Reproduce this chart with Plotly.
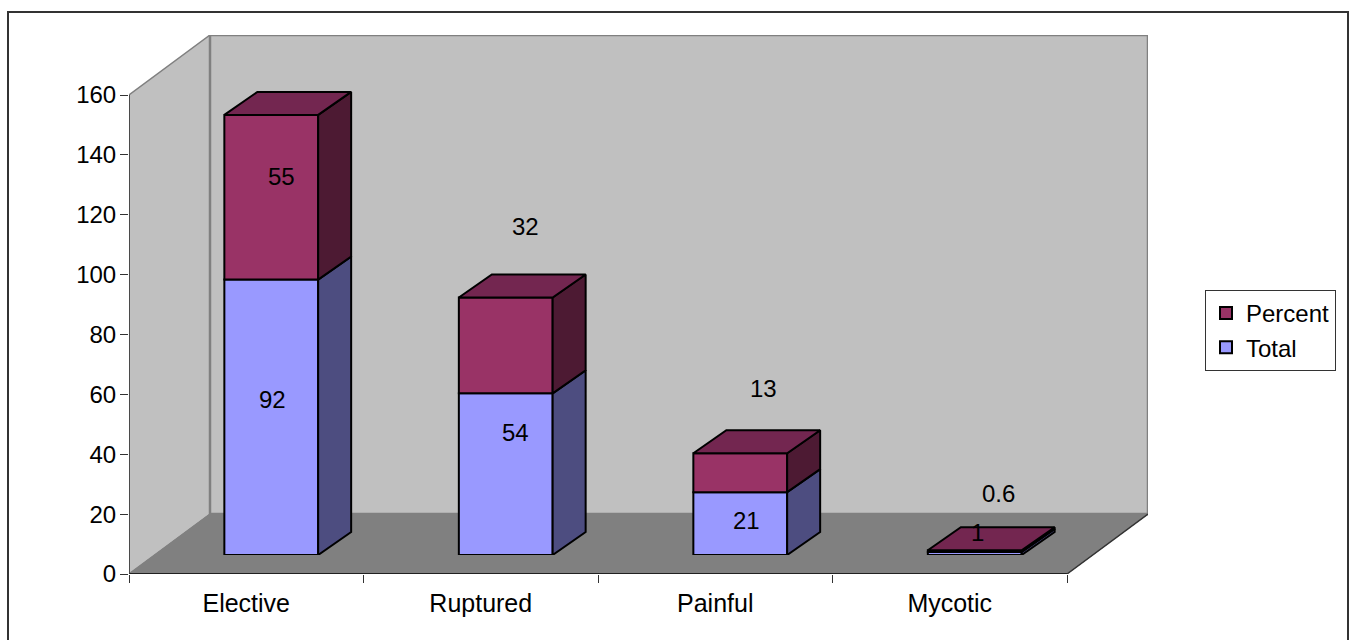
import plotly.graph_objects as go

categories = ["Elective", "Ruptured", "Painful", "Mycotic"]
total = [92, 54, 21, 1]
percent = [55, 32, 13, 0.6]
y_ticks = [0, 20, 40, 60, 80, 100, 120, 140, 160]

W, H = 1354, 640
FONT = "Liberation Sans"
FS = 24
# geometry of the pseudo-3D frame, in pixels
X0, X1, Y0, Y1 = 129, 1067, 574, 95
WALL_DX, WALL_DY = 81, 60
BAR_SHIFT_X, BAR_SHIFT_Y = 25, 19
BAR_DX, BAR_DY = 33, 23
px_per_cat = (X1 - X0) / 4
px_per_val = (Y0 - Y1) / 160
wdx, wdy = WALL_DX / px_per_cat, WALL_DY / px_per_val
bdx, bdy = BAR_DX / px_per_cat, BAR_DY / px_per_val
BAR_W = 0.4
EDGE = 2
pos = [i + 0.5 for i in range(len(categories))]

fig = go.Figure()


def poly(xs, ys, fill, line="black", lw=EDGE, axes=("x", "y")):
    fig.add_trace(go.Scatter(
        x=xs + xs[:1], y=ys + ys[:1], mode="lines", fill="toself", fillcolor=fill,
        line=dict(color=line, width=lw), hoverinfo="skip", showlegend=False,
        cliponaxis=False, xaxis=axes[0], yaxis=axes[1]))


ymax = y_ticks[-1]
n = len(categories)
# walls and floor
poly([0, wdx, wdx, 0], [0, wdy, ymax + wdy, ymax], "#C0C0C0", "#808080", 1.5)
poly([wdx, n + wdx, n + wdx, wdx], [wdy, wdy, ymax + wdy, ymax + wdy], "#C0C0C0", "#808080", 2.5)
poly([0, n, n + wdx, wdx], [0, 0, wdy, wdy], "#808080", "#808080", 1)
for xs, ys, c in [([0, n], [0, 0], "black"), ([n, n + wdx], [0, wdy], "#333333"), ([0, 0], [0, ymax], "#333333")]:
    fig.add_trace(go.Scatter(x=xs, y=ys, mode="lines", line=dict(color=c, width=1.5),
                             hoverinfo="skip", showlegend=False, cliponaxis=False))

# bars
fig.add_trace(go.Bar(x=pos, y=total, name="Total", width=BAR_W, xaxis="x2", yaxis="y2",
                     marker=dict(color="#9999FF", line=dict(color="black", width=EDGE))))
fig.add_trace(go.Bar(x=pos, y=percent, base=total, name="Percent", width=BAR_W, xaxis="x2", yaxis="y2",
                     marker=dict(color="#993366", line=dict(color="black", width=EDGE))))

for p, t, q in zip(pos, total, percent):
    r = p + BAR_W / 2
    l = p - BAR_W / 2
    s = t + q
    poly([r, r + bdx, r + bdx, r], [0, bdy, t + bdy, t], "#4D4D80", axes=("x2", "y2"))
    poly([r, r + bdx, r + bdx, r], [t, t + bdy, s + bdy, s], "#4D1A33", axes=("x2", "y2"))
    poly([l, r, r + bdx, l + bdx], [s, s, s + bdy, s + bdy], "#732650", axes=("x2", "y2"))

# data labels, offset from the middle of each segment as in the original
total_off = [(1, 18), (10, 42), (6, 3), (3, 21)]
percent_off = [(10, 21), (20, 119), (23, 84), (24, 58)]
ann = []
for p, t, q, to, po in zip(pos, total, percent, total_off, percent_off):
    for val, mid, off in [(t, t / 2, to), (q, t + q / 2, po)]:
        ann.append(dict(x=p, y=mid, xref="x2", yref="y2", text=str(val), showarrow=False,
                        xshift=off[0], yshift=off[1], font=dict(family=FONT, size=FS, color="black")))

fig.update_layout(
    width=W, height=H, margin=dict(l=0, r=0, t=0, b=0, pad=0, autoexpand=False),
    paper_bgcolor="white", plot_bgcolor="rgba(0,0,0,0)", barmode="overlay",
    font=dict(family=FONT, size=FS, color="black"),
    xaxis=dict(domain=[X0 / W, (X1 + WALL_DX) / W], range=[0, n + wdx], showgrid=False, zeroline=False,
               showline=False, tickmode="array", tickvals=pos, ticktext=categories, ticks="",
               ticklabelstandoff=12, tickfont=dict(family=FONT, size=25),
               minor=dict(tickmode="array", tickvals=list(range(n + 1)), ticks="outside", ticklen=8,
                          tickcolor="#333333", tickwidth=1, showgrid=False)),
    yaxis=dict(domain=[(H - Y0) / H, (H - Y1 + WALL_DY) / H], range=[0, ymax + wdy], showgrid=False, zeroline=False,
               showline=False, tickmode="array", tickvals=y_ticks, ticks="outside", ticklen=8,
               tickcolor="#333333", tickwidth=1, ticklabelstandoff=-1),
    xaxis2=dict(domain=[(X0 + BAR_SHIFT_X) / W, (X1 + BAR_SHIFT_X) / W], range=[0, n], visible=False, anchor="y2"),
    yaxis2=dict(domain=[(H - Y0 + BAR_SHIFT_Y) / H, (H - Y1 + BAR_SHIFT_Y) / H], range=[0, ymax], visible=False, anchor="x2"),
    legend=dict(x=1205 / W, y=(H - 290) / H, xanchor="left", yanchor="top", traceorder="reversed",
                entrywidthmode="pixels", entrywidth=88,
                bgcolor="white", bordercolor="#333333", borderwidth=1, font=dict(family=FONT, size=FS)),
    annotations=ann,
    shapes=[dict(type="rect", xref="paper", yref="paper", x0=8 / W, x1=1348 / W, y0=-0.05, y1=(H - 12) / H,
                 line=dict(color="#333333", width=2), layer="below")],
    showlegend=True,
)
fig.write_html("out.html", post_script="document.body.style.margin='0';", config={"displayModeBar": False})
